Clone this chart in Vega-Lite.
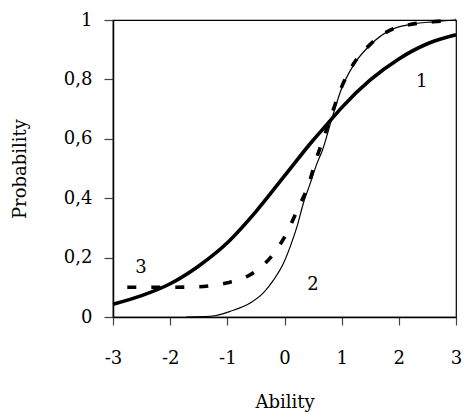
{
  "$schema": "https://vega.github.io/schema/vega-lite/v6.json",
  "autosize": "none",
  "width": 343,
  "height": 297,
  "padding": {"left": 113, "top": 20, "right": 7, "bottom": 97},
  "background": "white",
  "config": {
    "font": "DejaVu Serif",
    "view": {"stroke": "#000", "strokeWidth": 1.2},
    "axis": {
      "grid": false,
      "labelFont": "DejaVu Serif",
      "labelFontSize": 18,
      "labelColor": "#000",
      "titleFont": "DejaVu Serif",
      "titleFontSize": 18,
      "titleFontWeight": "normal",
      "titleColor": "#000",
      "domainColor": "#000",
      "domainWidth": 1.5,
      "tickColor": "#444",
      "tickWidth": 1.2
    }
  },
  "datasets": {
    "curves": [
      {"series": "1", "theta": -3, "p": 0.043},
      {"series": "1", "theta": -2.5, "p": 0.072},
      {"series": "1", "theta": -2, "p": 0.112},
      {"series": "1", "theta": -1.5, "p": 0.172},
      {"series": "1", "theta": -1, "p": 0.25},
      {"series": "1", "theta": -0.5, "p": 0.355},
      {"series": "1", "theta": 0, "p": 0.475},
      {"series": "1", "theta": 0.5, "p": 0.595},
      {"series": "1", "theta": 0.75, "p": 0.65},
      {"series": "1", "theta": 1, "p": 0.705},
      {"series": "1", "theta": 1.5, "p": 0.798},
      {"series": "1", "theta": 2, "p": 0.869},
      {"series": "1", "theta": 2.5, "p": 0.92},
      {"series": "1", "theta": 3, "p": 0.95},
      {"series": "2", "theta": -1.72, "p": 0},
      {"series": "2", "theta": -1.4, "p": 0.001},
      {"series": "2", "theta": -1.2, "p": 0.005},
      {"series": "2", "theta": -0.95, "p": 0.019},
      {"series": "2", "theta": -0.6, "p": 0.047},
      {"series": "2", "theta": -0.37, "p": 0.081},
      {"series": "2", "theta": -0.19, "p": 0.125},
      {"series": "2", "theta": -0.02, "p": 0.18},
      {"series": "2", "theta": 0.1, "p": 0.237},
      {"series": "2", "theta": 0.22, "p": 0.305},
      {"series": "2", "theta": 0.33, "p": 0.383},
      {"series": "2", "theta": 0.45, "p": 0.45},
      {"series": "2", "theta": 0.57, "p": 0.518},
      {"series": "2", "theta": 0.66, "p": 0.56},
      {"series": "2", "theta": 0.83, "p": 0.669},
      {"series": "2", "theta": 1.0, "p": 0.77},
      {"series": "2", "theta": 1.21, "p": 0.849},
      {"series": "2", "theta": 1.5, "p": 0.916},
      {"series": "2", "theta": 1.85, "p": 0.966},
      {"series": "2", "theta": 2.2, "p": 0.985},
      {"series": "2", "theta": 2.6, "p": 0.994},
      {"series": "2", "theta": 3, "p": 1.0},
      {"series": "3", "theta": -2.75, "p": 0.1},
      {"series": "3", "theta": -2, "p": 0.1},
      {"series": "3", "theta": -1.5, "p": 0.102},
      {"series": "3", "theta": -1.2, "p": 0.108},
      {"series": "3", "theta": -1, "p": 0.115},
      {"series": "3", "theta": -0.8, "p": 0.125},
      {"series": "3", "theta": -0.63, "p": 0.139},
      {"series": "3", "theta": -0.4, "p": 0.17},
      {"series": "3", "theta": -0.22, "p": 0.206},
      {"series": "3", "theta": 0.04, "p": 0.283},
      {"series": "3", "theta": 0.24, "p": 0.367},
      {"series": "3", "theta": 0.42, "p": 0.445},
      {"series": "3", "theta": 0.54, "p": 0.523},
      {"series": "3", "theta": 0.68, "p": 0.6},
      {"series": "3", "theta": 0.83, "p": 0.685},
      {"series": "3", "theta": 1.0, "p": 0.775},
      {"series": "3", "theta": 1.2, "p": 0.85},
      {"series": "3", "theta": 1.5, "p": 0.918},
      {"series": "3", "theta": 1.85, "p": 0.966},
      {"series": "3", "theta": 2.2, "p": 0.985},
      {"series": "3", "theta": 2.6, "p": 0.994},
      {"series": "3", "theta": 3, "p": 1.0}
    ],
    "labels": [
      {"label": "1", "theta": 2.4, "p": 0.79},
      {"label": "2", "theta": 0.5, "p": 0.109},
      {"label": "3", "theta": -2.51, "p": 0.165}
    ]
  },
  "encoding": {
    "x": {
      "field": "theta",
      "type": "quantitative",
      "scale": {"domain": [-3, 3], "nice": false, "zero": false},
      "axis": {
        "title": "Ability",
        "values": [-3, -2, -1, 0, 1, 2, 3],
        "labelExpr": "toString(datum.value)",
        "tickSize": 8,
        "labelPadding": 24,
        "labelFlush": false,
        "titleX": 171.5,
        "titleY": 85,
        "titleBaseline": "middle",
        "titleAlign": "center"
      }
    },
    "y": {
      "field": "p",
      "type": "quantitative",
      "scale": {"domain": [0, 1], "nice": false},
      "axis": {
        "title": "Probability",
        "values": [0, 0.2, 0.4, 0.6, 0.8, 1],
        "labelExpr": "replace(format(datum.value, '.1~f'), '.', ',')",
        "tickSize": 9,
        "labelPadding": 12,
        "labelFlush": false,
        "titleX": -93,
        "titleY": 148.5,
        "titleAngle": -90,
        "titleBaseline": "middle",
        "titleAlign": "center"
      }
    }
  },
  "layer": [
    {
      "data": {"name": "curves"},
      "transform": [{"filter": "datum.series === '1'"}],
      "mark": {"type": "line", "color": "#000", "strokeWidth": 3.6, "interpolate": "monotone"}
    },
    {
      "data": {"name": "curves"},
      "transform": [{"filter": "datum.series === '2'"}],
      "mark": {"type": "line", "color": "#000", "strokeWidth": 1.2, "interpolate": "monotone"}
    },
    {
      "data": {"name": "curves"},
      "transform": [{"filter": "datum.series === '3'"}],
      "mark": {"type": "line", "color": "#000", "strokeWidth": 3.6, "strokeDash": [9, 15], "interpolate": "monotone"}
    },
    {
      "data": {"name": "labels"},
      "mark": {"type": "text", "font": "DejaVu Serif", "fontSize": 18, "color": "#000", "align": "center", "baseline": "middle"},
      "encoding": {"text": {"field": "label"}}
    }
  ]
}
